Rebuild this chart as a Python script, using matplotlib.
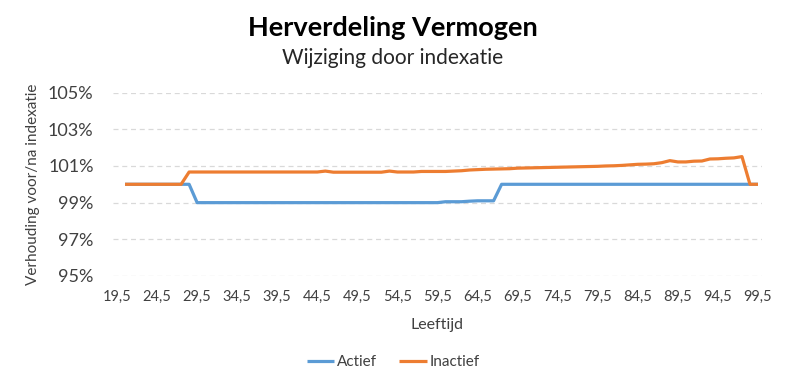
import numpy as np
import matplotlib
matplotlib.use('Agg')
import matplotlib.pyplot as plt

# leeftijden 20,5 .. 99,5 (categorie 19,5 heeft geen waarde)
ages = np.arange(20.5, 100.0, 1.0)

actief = ([100.0] * 9 + [99.0] * 31 +
          [99.05, 99.05, 99.05, 99.08, 99.1, 99.1, 99.1] +
          [100.0] * 33)

inactief = ([100.0] * 8 + [100.67] * 17 + [100.72] + [100.66] * 7 +
            [100.72] + [100.67] * 3 + [100.70] * 4 +
            [100.72, 100.74, 100.78, 100.80, 100.82, 100.83, 100.84, 100.85,
             100.88, 100.89, 100.90, 100.91, 100.92, 100.93, 100.94, 100.95,
             100.96, 100.97, 100.98, 101.00, 101.01, 101.03, 101.06, 101.09,
             101.10, 101.12, 101.18, 101.29, 101.22, 101.22, 101.26, 101.27,
             101.38, 101.39, 101.42, 101.44, 101.51, 100.0, 100.0])

xticks = np.arange(19.5, 100.0, 5.0)
xlabels = [('%.1f' % v).replace('.', ',') for v in xticks]
yticks = [95, 97, 99, 101, 103, 105]
ylabels = ['%d%%' % v for v in yticks]

plt.rcParams['font.family'] = ['Lato', 'DejaVu Sans']

fig = plt.figure(figsize=(7.86, 3.84), dpi=100)
ax = fig.add_axes([113/786, 1-276/384, (762-113)/786, (276-92.6)/384])

ax.plot(ages, actief, color='#5B9BD5', lw=2.3, label='Actief', solid_capstyle='butt')
ax.plot(ages, inactief, color='#ED7D31', lw=2.3, label='Inactief', solid_capstyle='butt')

ax.set_xlim(19.0, 100.0)
ax.set_ylim(95, 105)
ax.set_xticks(xticks)
ax.set_xticklabels(xlabels, fontsize=10.5, color='#404040')
ax.set_yticks(yticks)
ax.set_yticklabels(ylabels, fontsize=13, color='#404040')
ax.tick_params(axis='x', length=0, pad=10)
ax.tick_params(axis='y', length=0, pad=14)
ax.grid(axis='y', color='#D9D9D9', ls=(0, (4, 3)), lw=0.9)
ax.set_axisbelow(True)
for s in ax.spines.values():
    s.set_visible(False)

ax.set_xlabel('Leeftijd', fontsize=11.5, color='#404040', labelpad=10)
ax.set_ylabel('Verhouding voor/na indexatie', fontsize=11, color='#404040', labelpad=6)

fig.text(0.5, 1-28/384, 'Herverdeling Vermogen', ha='center', va='center',
         fontsize=19.5, fontweight='bold', color='black')
fig.text(0.5, 1-58/384, 'Wijziging door indexatie', ha='center', va='center',
         fontsize=15, color='#262626')

fig.legend(loc='center', bbox_to_anchor=(0.5, 1-362/384), ncol=2, frameon=False,
           fontsize=11, handlelength=1.8, handletextpad=0.15, columnspacing=1.5,
           labelcolor='#404040')

fig.savefig('out.png', dpi=100)
